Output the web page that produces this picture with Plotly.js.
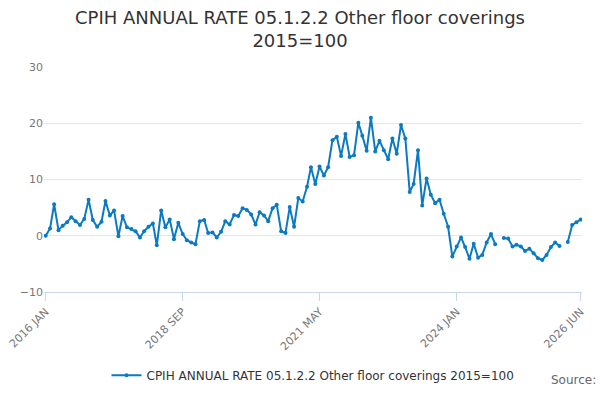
<html>
<head>
<script src="https://cdn.plot.ly/plotly-3.0.1.min.js"></script>
<style>body{margin:0}</style>
</head>
<body>
<div id="plot" style="width:600px;height:400px"></div>
<script>
const years = [2016, 2017, 2018, 2019, 2020, 2021, 2022, 2023, 2024, 2025, 2026];
const rates = [
  [0, 1.3, 5.6, 1, 1.8, 2.4, 3.3, 2.6, 1.9, 3, 6.4, 2.8],
  [1.6, 2.5, 6.2, 3.6, 4.5, -0.1, 3.5, 1.5, 1.2, 0.8, -0.3, 0.8],
  [1.6, 2.2, -1.7, 4.5, 1.5, 2.9, -0.6, 2.3, 0.3, -0.8, -1.2, -1.5],
  [2.6, 2.8, 0.5, 0.6, -0.3, 0.7, 2.6, 2, 3.7, 3.5, 4.9, 4.6],
  [3.8, 2, 4.2, 3.6, 2.6, 4.9, 5.5, 0.8, 0.5, 5.1, 1.6, 6.7],
  [6.1, 8.7, 12.2, 9.2, 12.3, 10.7, 12.2, 17, 17.6, 14.2, 18.1, 14],
  [14.3, 20.1, 17.8, 15.1, 21, 15, 16.9, 15.2, 13.6, 17.3, 14.6, 19.7],
  [17.3, 7.8, 9.2, 15.2, 5.4, 10.2, 7.3, 5.8, 6.4, 3.9, 1.6, -3.7],
  [-1.9, -0.3, -2, -4.1, -1.4, -3.9, -3.4, -1.2, 0.3, -1.5, null, -0.4],
  [-0.5, -1.9, -1.6, -1.9, -2.7, -2.3, -3.1, -4, -4.3, -3.4, -2, -1.2],
  [-1.8, null, -1.1, 1.9, 2.4, 2.9],
];
const tickDates = ['2016-01-01', '2018-09-01', '2021-05-01', '2024-01-01', '2026-06-01'];
const tickLabels = ['2016 JAN', '2018 SEP', '2021 MAY', '2024 JAN', '2026 JUN'];
const seriesName = 'CPIH ANNUAL RATE 05.1.2.2 Other floor coverings 2015=100';

const x = [];
const y = [];
years.forEach((yr, i) => {
  rates[i].forEach((v, m) => {
    x.push(`${yr}-${String(m + 1).padStart(2, '0')}-01`);
    y.push(v);
  });
});

const trace = {
  x, y,
  name: seriesName,
  type: 'scatter',
  mode: 'lines+markers',
  connectgaps: false,
  line: { color: '#0b7ac2', width: 2 },
  marker: { color: '#0b7ac2', size: 4 },
};

const font = 'DejaVu Sans, sans-serif';
const layout = {
  width: 600, height: 400,
  margin: { l: 44, r: 18, t: 67, b: 107 },
  font: { family: font, color: '#555' },
  title: { text: 'CPIH ANNUAL RATE 05.1.2.2 Other floor coverings<br>2015=100', font: { size: 18, color: '#333' }, y: 0.94, yanchor: 'top' },
  showlegend: true,
  legend: { orientation: 'h', x: 0.5, xanchor: 'center', y: -0.3, font: { size: 12, color: '#333' } },
  xaxis: {
    type: 'date', automargin: false,
    range: ['2015-12-20', '2026-06-10'],
    tickvals: tickDates, ticktext: tickLabels,
    tickangle: -45, tickfont: { size: 11, color: '#777' },
    showgrid: false, showline: true, linecolor: '#ccd6eb',
    ticks: 'outside', tickcolor: '#ccd6eb', ticklen: 8,
  },
  yaxis: {
    automargin: false,
    range: [-10, 30], tickvals: [-10, 0, 10, 20, 30],
    tickfont: { size: 11, color: '#777' },
    gridcolor: '#e6e6e6', zeroline: false,
  },
  annotations: [{
    text: 'Source:', xref: 'paper', yref: 'paper', x: 1.03, y: -0.43,
    xanchor: 'right', showarrow: false, font: { size: 12, color: '#666' },
  }],
};

Plotly.newPlot('plot', [trace], layout, { displayModeBar: false });
</script>
</body>
</html>
